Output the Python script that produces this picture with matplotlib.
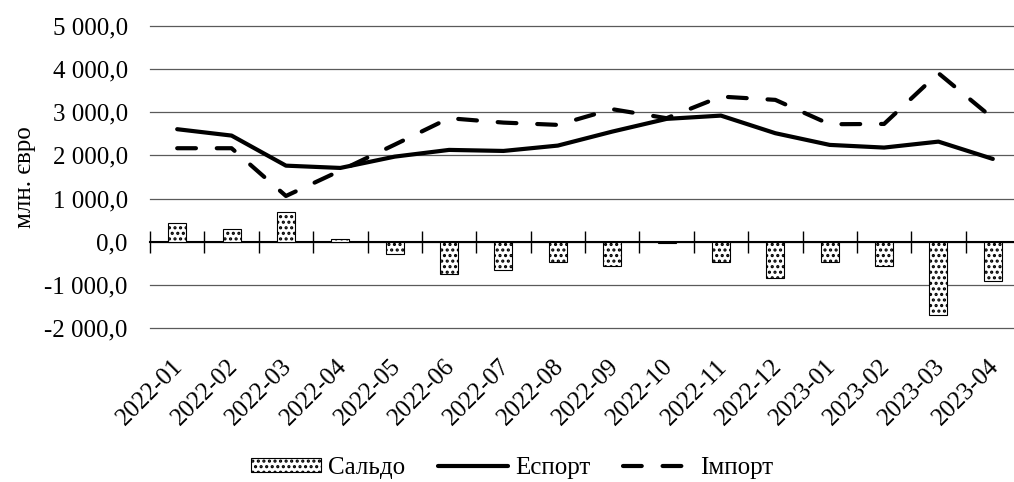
import numpy as np
import matplotlib
matplotlib.use("Agg")
import matplotlib.pyplot as plt
from matplotlib.ticker import FuncFormatter
from matplotlib.transforms import ScaledTranslation

plt.rcParams['font.family'] = ['Liberation Serif', 'DejaVu Serif']
plt.rcParams['hatch.linewidth'] = 1.5

# data
months = ["2022-01", "2022-02", "2022-03", "2022-04", "2022-05", "2022-06",
          "2022-07", "2022-08", "2022-09", "2022-10", "2022-11", "2022-12",
          "2023-01", "2023-02", "2023-03", "2023-04"]
export = [2608, 2460, 1763, 1710, 1972, 2128, 2104, 2228, 2552, 2847,
          2923, 2515, 2244, 2182, 2320, 1919]
imports = [2167, 2167, 1060, 1648, 2250, 2863, 2761, 2708, 3072, 2863,
           3364, 3288, 2723, 2730, 3907, 2863]
saldo = [434, 288, 696, 56, -285, -757, -664, -471, -571, -20,
         -471, -835, -471, -571, -1701, -912]

x = np.arange(len(months))
fs = 18

fig = plt.figure(figsize=(10.14, 4.82), dpi=100)
ax = fig.add_axes([150 / 1014, 1 - 328 / 482, 870 / 1014, 302 / 482])

# spines first (set_position resets the ticks)
ax.spines["bottom"].set_position(("data", 0))
ax.spines["bottom"].set_linewidth(1.5)
for s in ["top", "right", "left"]:
    ax.spines[s].set_visible(False)

# bars
b = ax.bar(x, saldo, width=0.33, color="white", edgecolor="black",
           linewidth=0.8, hatch="...", label="Сальдо", zorder=3)

# lines
l1, = ax.plot(x, export, color="black", linewidth=3, label="Еспорт", zorder=4,
              solid_capstyle="round", solid_joinstyle="round")
l2, = ax.plot(x, imports, color="black", linewidth=3, linestyle=(0, (4.5, 5.0)),
              dash_capstyle="round", label="Імпорт", zorder=4)

ax.set_ylim(-2000, 5000)
ax.set_yticks(np.arange(-2000, 5001, 1000))
ax.yaxis.set_major_formatter(FuncFormatter(
    lambda v, p: f"{v:,.1f}".replace(",", " ").replace(".", ",")))
ax.tick_params(axis="y", length=0, pad=16, labelsize=fs)
ax.grid(axis="y", color="#5a5a5a", linewidth=0.9, zorder=0)
ax.set_axisbelow(True)

ax.set_xlim(-0.5, len(months) - 0.5)
ax.set_xticks(x)
ax.set_xticks(np.arange(-0.5, len(months), 1.0), minor=True)
ax.tick_params(axis="x", which="major", length=0, pad=82, labelsize=fs)
ax.tick_params(axis="x", which="minor", length=16, width=1, direction="inout")
ax.set_xticklabels(months)
shift = ScaledTranslation(-5 / 100, 0, fig.dpi_scale_trans)
for lab in ax.get_xticklabels():
    lab.set_rotation(45)
    lab.set_ha("right")
    lab.set_rotation_mode("anchor")
    lab.set_transform(lab.get_transform() + shift)

for gl in ax.get_ygridlines():
    gl.set_clip_on(False)

ax.set_ylabel("млн. євро", fontsize=fs, labelpad=6)

fig.legend(handles=[b, l1, l2], loc="lower center", bbox_to_anchor=(0.505, -0.04),
           ncol=3, frameon=False, fontsize=fs, handlelength=2.8,
           handletextpad=0.3, columnspacing=1.3, handleheight=0.5)

fig.savefig("out.png", dpi=100)
